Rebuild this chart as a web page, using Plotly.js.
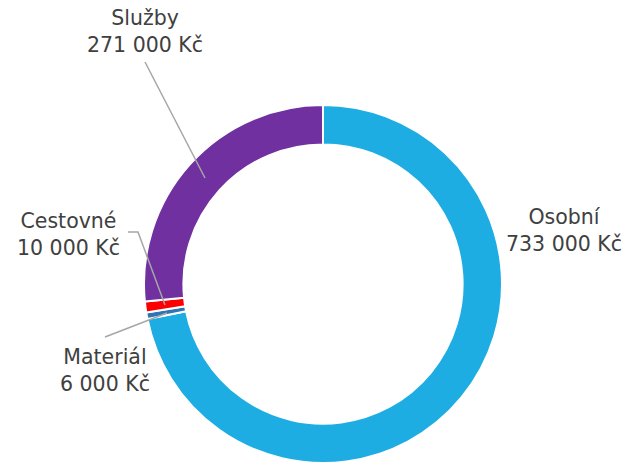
<!DOCTYPE html>
<html><head><meta charset="utf-8">
<script src="https://cdn.plot.ly/plotly-3.0.1.min.js"></script>
<style>html,body{margin:0;padding:0;background:#fff}#chart{width:637px;height:463px}</style>
</head><body><div id="chart"></div>
<script>
const categories = ["Osobní", "Materiál", "Cestovné", "Služby"];
const values = [733000, 6000, 10000, 271000];
const colors = ["#1EADE3", "#2E75B6", "#FF0000", "#7030A0"];
const valueLabels = ["733 000 Kč", "6 000 Kč", "10 000 Kč", "271 000 Kč"];

const W = 637, H = 463;
const px = x => x / W;
const py = y => 1 - y / H;

const labelPos = {
  "Osobní":   [564, 230],
  "Materiál": [105, 370],
  "Cestovné": [68, 234],
  "Služby":   [145, 32]
};
const leaders = {
  "Služby":   [[145, 62], [205, 178]],
  "Cestovné": [[128, 232], [138, 232], [165, 305]],
  "Materiál": [[105, 337], [167, 313]]
};

const font = {family: "DejaVu Sans", size: 20.5, color: "#404040"};

const annotations = categories.map((c, i) => ({
  xref: "paper", yref: "paper",
  x: px(labelPos[c][0]), y: py(labelPos[c][1]),
  xanchor: "center", yanchor: "middle",
  text: c + "<br>" + valueLabels[i],
  showarrow: false, font: font, align: "center"
}));

const shapes = Object.keys(leaders).map(k => ({
  type: "path", xref: "paper", yref: "paper",
  path: leaders[k].map((p, j) => (j ? "L" : "M") + px(p[0]) + "," + py(p[1])).join(" "),
  line: {color: "#A6A6A6", width: 1.5}
}));

Plotly.newPlot("chart", [{
  type: "pie",
  labels: categories,
  values: values,
  hole: 0.78,
  sort: false,
  direction: "clockwise",
  rotation: 0,
  marker: {colors: colors, line: {color: "#ffffff", width: 2}},
  textinfo: "none",
  hoverinfo: "label+value",
  domain: {x: [px(144), px(502)], y: [0, py(105)]}
}], {
  width: W, height: H,
  margin: {l: 0, r: 0, t: 0, b: 0},
  showlegend: false,
  paper_bgcolor: "#ffffff",
  annotations: annotations,
  shapes: shapes
}, {displayModeBar: false, staticPlot: true});
</script></body></html>
